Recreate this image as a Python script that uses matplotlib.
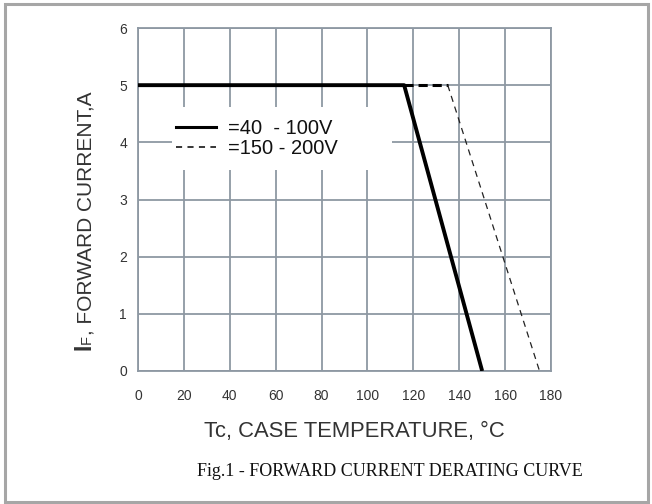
import matplotlib
matplotlib.use("Agg")
import matplotlib.pyplot as plt
from matplotlib.lines import Line2D
from matplotlib.patches import Rectangle

# ---- data ----
temp_solid = [0, 116, 150]
curr_solid = [5, 5, 0]
temp_dash = [116, 135, 175]
curr_dash = [5, 5, 0]
x_ticks = [0, 20, 40, 60, 80, 100, 120, 140, 160, 180]
y_ticks = [0, 1, 2, 3, 4, 5, 6]
legend_labels = ["=40  - 100V", "=150 - 200V"]

W, H = 652, 504
fig = plt.figure(figsize=(W / 100, H / 100), dpi=100)
fig.patch.set_facecolor("white")

sans = ["Liberation Sans", "DejaVu Sans"]
grid_c = "#8d98a3"
txt_c = "#333333"

def px(x, y):
    return x / W, 1 - y / H

l, r, t, b = 138, 551, 28, 371
ax = fig.add_axes([l / W, 1 - b / H, (r - l) / W, (b - t) / H])
ax.set_xlim(0, 180)
ax.set_ylim(0, 6)
ax.set_xticks(x_ticks)
ax.set_yticks(y_ticks)
ax.set_xticklabels([str(v) for v in x_ticks], fontfamily=sans, fontsize=10, color=txt_c)
ax.set_yticklabels([str(v) for v in y_ticks], fontfamily=sans, fontsize=10, color=txt_c)
ax.tick_params(length=0)
ax.tick_params(axis="y", pad=8)
ax.tick_params(axis="x", pad=13)
ax.grid(True, color=grid_c, lw=1.3)
for s in ax.spines.values():
    s.set_color(grid_c)
    s.set_linewidth(1.3)
ax.set_axisbelow(True)

ax.plot(temp_solid, curr_solid, color="black", lw=2.8, solid_capstyle="butt", zorder=4)
ax.plot(temp_dash[:2], curr_dash[:2], color="black", lw=2.2, ls=(0, (3, 1.6)), zorder=3)
ax.plot(temp_dash[1:], curr_dash[1:], color="#222222", lw=0.9, ls=(0, (5, 4)), zorder=3)

# white patch behind legend (covers grid lines like the reference)
ax.add_patch(Rectangle(px(172, 170), (392 - 172) / W, (170 - 107) / H,
                       transform=fig.transFigure, facecolor="white",
                       edgecolor="none", zorder=2))

handles = [Line2D([], [], color="black", lw=2.2),
           Line2D([], [], color="black", lw=1.1, ls=(0, (4, 3.5)))]
leg = ax.legend(handles, legend_labels, loc="upper left",
                bbox_to_anchor=px(176, 119), bbox_transform=fig.transFigure,
                frameon=False, prop={"family": sans, "size": 14.5},
                handlelength=2.0, handletextpad=0.6, labelspacing=0.04,
                borderpad=0.0, borderaxespad=0)
for tx in leg.get_texts():
    tx.set_color("#111111")
leg.set_zorder(5)

# x label
fig.text(*px(354, 432), "Tc, CASE TEMPERATURE, \u00b0C", ha="center", va="center",
         fontfamily=sans, fontsize=15.8, color=txt_c)

# caption
fig.text(*px(390, 472), "Fig.1 - FORWARD CURRENT DERATING CURVE", ha="center", va="center",
         fontfamily=["Liberation Serif", "DejaVu Serif"], fontsize=13, color="#111111")

# y label built from pieces (I bold, small F, rest)
fig.canvas.draw()
renderer = fig.canvas.get_renderer()
base_x = 91
y0 = 350
pieces = [("I", 16.5, "bold"), ("F", 10.5, "normal"), (", FORWARD CURRENT,A", 15, "normal")]
for s, fs, wt in pieces:
    tt = fig.text(*px(base_x, y0), s, rotation=90, rotation_mode="anchor",
                  ha="left", va="baseline", fontfamily=sans, fontsize=fs,
                  fontweight=wt, color=txt_c)
    bb = tt.get_window_extent(renderer)
    y0 -= bb.height

# outer frame
fig.patches.append(Rectangle((4.5 / W, 1 - 502 / H), (648 - 4.5) / W, (502 - 4) / H,
                             transform=fig.transFigure, fill=False,
                             edgecolor="#a6a6a6", lw=2.2))

fig.savefig("out.png", dpi=100)
